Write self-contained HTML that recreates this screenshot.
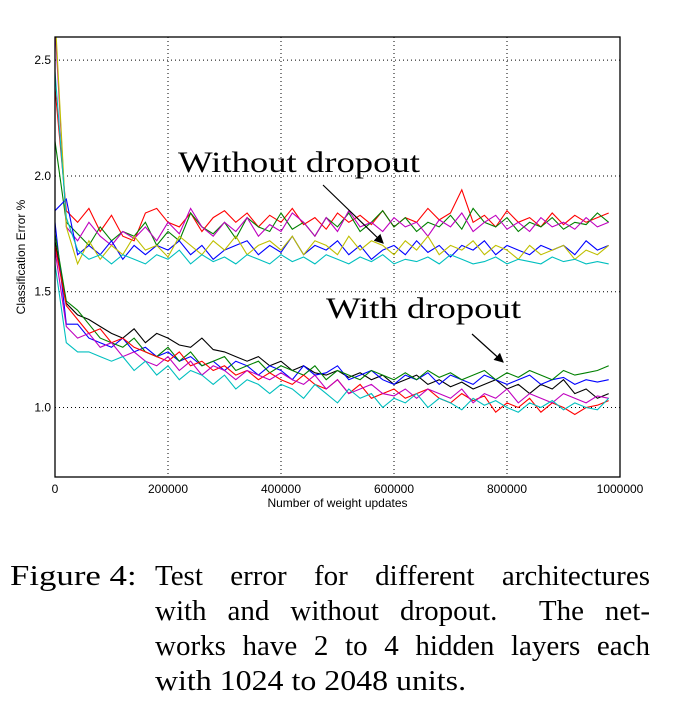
<!DOCTYPE html>
<html><head><meta charset="utf-8"><style>
body{margin:0;background:#fff;width:679px;height:703px;position:relative;overflow:hidden}
.cap{position:absolute;font-family:"Liberation Serif",serif;font-size:29px;color:#000;white-space:nowrap;line-height:30px}
.ln{position:absolute;left:155px;width:495px;text-align:justify;text-align-last:justify;font-family:"Liberation Serif",serif;font-size:29px;line-height:30px;white-space:nowrap}
</style></head><body>
<svg id="chart" width="679" height="530" style="position:absolute;left:0;top:0" font-family="Liberation Sans, DejaVu Sans, sans-serif"></svg>
<div class="cap" style="left:10px;top:561px;transform-origin:0 0;transform:scaleX(1.2)">Figure 4:</div>
<div class="ln" style="top:561px">Test error for different architectures</div>
<div class="ln" style="top:596px">with and without dropout.&nbsp; The net-</div>
<div class="ln" style="top:631px">works have 2 to 4 hidden layers each</div>
<div class="cap" style="left:155px;top:666px;transform-origin:0 0;transform:scaleX(1.1)">with 1024 to 2048 units.</div>
<script>
const xTicks=[0,200000,400000,600000,800000,1000000];
const yTicks=[1.0,1.5,2.0,2.5];
const xStep=20000;
const seriesColors=["#ff0000","#008000","#bf00bf","#0000ff","#bfbf00","#00bfbf","#000000","#0000ff","#008000","#ff0000","#bf00bf","#00bfbf"];
const woRed=[2.38,1.85,1.80,1.86,1.76,1.83,1.74,1.72,1.84,1.86,1.80,1.78,1.84,1.76,1.82,1.85,1.80,1.84,1.78,1.83,1.80,1.86,1.79,1.82,1.77,1.84,1.80,1.83,1.79,1.85,1.78,1.82,1.80,1.86,1.81,1.84,1.94,1.80,1.83,1.78,1.85,1.80,1.82,1.78,1.84,1.79,1.83,1.80,1.82,1.84];
const woGreen=[2.15,1.80,1.75,1.70,1.78,1.72,1.76,1.74,1.80,1.70,1.76,1.72,1.84,1.78,1.75,1.80,1.73,1.82,1.78,1.76,1.84,1.77,1.80,1.74,1.82,1.78,1.84,1.76,1.80,1.85,1.78,1.82,1.76,1.80,1.78,1.83,1.77,1.86,1.80,1.78,1.82,1.76,1.80,1.78,1.82,1.77,1.80,1.79,1.84,1.80];
const woMagenta=[2.65,1.78,1.72,1.80,1.74,1.70,1.76,1.73,1.78,1.72,1.80,1.75,1.86,1.78,1.74,1.80,1.76,1.82,1.74,1.79,1.76,1.84,1.80,1.74,1.82,1.76,1.85,1.78,1.80,1.76,1.82,1.78,1.80,1.74,1.81,1.78,1.84,1.76,1.80,1.83,1.77,1.80,1.76,1.82,1.78,1.80,1.77,1.82,1.78,1.80];
const woBlue=[1.85,1.90,1.66,1.70,1.66,1.72,1.64,1.70,1.66,1.70,1.68,1.72,1.66,1.70,1.64,1.68,1.70,1.72,1.66,1.70,1.67,1.74,1.66,1.70,1.68,1.72,1.66,1.70,1.64,1.68,1.70,1.66,1.72,1.67,1.70,1.65,1.70,1.68,1.72,1.66,1.70,1.68,1.66,1.70,1.68,1.70,1.66,1.72,1.68,1.70];
const woYellow=[2.70,1.78,1.62,1.72,1.64,1.70,1.66,1.74,1.68,1.70,1.65,1.74,1.70,1.66,1.72,1.68,1.74,1.66,1.70,1.72,1.68,1.74,1.66,1.72,1.70,1.66,1.74,1.68,1.72,1.70,1.66,1.72,1.68,1.74,1.66,1.70,1.68,1.72,1.66,1.70,1.68,1.64,1.70,1.66,1.68,1.70,1.64,1.68,1.66,1.70];
const woCyan=[2.45,1.82,1.68,1.64,1.66,1.62,1.66,1.64,1.62,1.66,1.64,1.68,1.62,1.66,1.63,1.65,1.62,1.66,1.64,1.62,1.66,1.63,1.65,1.62,1.66,1.64,1.62,1.65,1.63,1.66,1.62,1.64,1.63,1.65,1.62,1.66,1.64,1.62,1.63,1.65,1.62,1.64,1.63,1.62,1.65,1.63,1.64,1.62,1.63,1.62];
const dBlack=[1.72,1.45,1.40,1.38,1.35,1.32,1.30,1.34,1.28,1.32,1.30,1.27,1.26,1.30,1.25,1.24,1.22,1.20,1.22,1.18,1.20,1.16,1.18,1.15,1.14,1.16,1.13,1.15,1.12,1.14,1.10,1.12,1.14,1.10,1.12,1.09,1.11,1.08,1.10,1.12,1.08,1.10,1.06,1.10,1.08,1.12,1.06,1.08,1.04,1.06];
const dBlue=[1.80,1.36,1.36,1.30,1.28,1.26,1.30,1.24,1.26,1.22,1.24,1.20,1.22,1.18,1.20,1.16,1.20,1.18,1.14,1.18,1.16,1.12,1.18,1.14,1.15,1.18,1.12,1.14,1.16,1.12,1.10,1.14,1.12,1.15,1.10,1.14,1.12,1.10,1.14,1.12,1.10,1.12,1.14,1.10,1.12,1.13,1.10,1.12,1.11,1.12];
const dGreen=[1.75,1.46,1.42,1.36,1.30,1.28,1.26,1.30,1.24,1.22,1.26,1.20,1.24,1.18,1.20,1.22,1.16,1.18,1.20,1.15,1.18,1.16,1.14,1.18,1.12,1.16,1.14,1.12,1.16,1.14,1.12,1.15,1.12,1.16,1.13,1.15,1.12,1.14,1.16,1.12,1.15,1.13,1.16,1.14,1.12,1.16,1.14,1.15,1.16,1.18];
const dRed=[1.70,1.44,1.38,1.32,1.34,1.28,1.30,1.26,1.24,1.22,1.20,1.24,1.18,1.20,1.16,1.18,1.14,1.16,1.12,1.15,1.12,1.10,1.14,1.10,1.08,1.12,1.06,1.10,1.04,1.06,1.08,1.04,1.06,1.08,1.04,1.02,1.06,1.03,1.05,0.98,1.02,1.00,1.04,0.98,1.02,1.00,0.97,1.00,1.01,1.03];
const dMagenta=[1.68,1.35,1.30,1.32,1.26,1.28,1.22,1.24,1.20,1.18,1.22,1.16,1.20,1.14,1.18,1.16,1.12,1.16,1.14,1.12,1.15,1.12,1.10,1.14,1.08,1.12,1.06,1.08,1.10,1.06,1.05,1.08,1.04,1.08,1.06,1.04,1.08,1.02,1.06,1.04,1.08,1.02,1.06,1.04,1.02,1.06,1.04,1.02,1.05,1.04];
const dCyan=[1.62,1.28,1.24,1.24,1.22,1.20,1.22,1.16,1.20,1.14,1.18,1.12,1.16,1.14,1.10,1.14,1.08,1.12,1.10,1.06,1.10,1.08,1.04,1.10,1.06,1.02,1.08,1.04,1.06,1.00,1.04,1.02,1.06,1.00,1.04,1.02,0.99,1.04,1.01,1.03,1.00,0.98,1.02,1.00,1.03,0.99,1.02,1.00,0.99,1.04];
const allSeries=[woRed,woGreen,woMagenta,woBlue,woYellow,woCyan,dBlack,dBlue,dGreen,dRed,dMagenta,dCyan];
const seriesNames=["wo-red","wo-green","wo-magenta","wo-blue","wo-yellow","wo-cyan","d-black","d-blue","d-green","d-red","d-magenta","d-cyan"];

const L=55,R=620,T=37,B=477,xMin=0,xMax=1000000,yMin=0.7,yMax=2.6;
const sx=v=>L+(v-xMin)/(xMax-xMin)*(R-L);
const sy=v=>B-(v-yMin)/(yMax-yMin)*(B-T);
const NS="http://www.w3.org/2000/svg";
const svg=document.getElementById('chart');
function mk(t,a,p){const e=document.createElementNS(NS,t);for(const k in a)e.setAttribute(k,a[k]);(p||svg).appendChild(e);return e;}
const defs=mk('defs',{});const cp=mk('clipPath',{id:'cp'},defs);mk('rect',{x:L,y:T,width:R-L,height:B-T},cp);
xTicks.forEach(t=>{const x=sx(t);
 if(t>xMin&&t<xMax){const g=mk('line',{x1:x,x2:x,y1:T,y2:B,stroke:'#000','stroke-dasharray':'1,3','stroke-width':1});
 
 }
 const tx=mk('text',{x:x,y:B+16,'font-size':12,'text-anchor':'middle'});tx.textContent=t;
 
 
});
yTicks.forEach(t=>{const y=sy(t);
 const g=mk('line',{x1:L,x2:R,y1:y,y2:y,stroke:'#000','stroke-dasharray':'1,3','stroke-width':1});
 
 
 const tx=mk('text',{x:L-4,y:y+4,'font-size':12,'text-anchor':'end'});tx.textContent=t.toFixed(1);
 
 
});
const gl=mk('g',{'clip-path':'url(#cp)'});
allSeries.forEach((s,i)=>{const pts=s.map((v,j)=>sx(j*xStep).toFixed(1)+','+sy(v).toFixed(1)).join(' ');
 const p=mk('polyline',{points:pts,fill:'none',stroke:seriesColors[i],'stroke-width':1.1},gl);
 
 
});
const fr=mk('rect',{x:L,y:T,width:R-L,height:B-T,fill:'none',stroke:'#000','stroke-width':1.3});


const xl=mk('text',{x:(L+R)/2,y:B+30,'font-size':12,'text-anchor':'middle'});xl.textContent='Number of weight updates';


const yl=mk('text',{x:0,y:0,'font-size':12,'text-anchor':'middle',transform:'translate(25,257) rotate(-90)'});yl.textContent='Classification Error %';


const a1=mk('text',{x:178,y:172,'font-size':30,'font-family':'Liberation Serif, serif',textLength:242,lengthAdjust:'spacingAndGlyphs'});a1.textContent='Without dropout';


const a2=mk('text',{x:326,y:318,'font-size':30,'font-family':'Liberation Serif, serif',textLength:195,lengthAdjust:'spacingAndGlyphs'});a2.textContent='With dropout';


const am=mk('marker',{id:'ah',markerWidth:8,markerHeight:8,refX:7,refY:4,orient:'auto'},defs);mk('path',{d:'M0,0 L8,4 L0,8 z',fill:'#000'},am);
const r1=mk('line',{x1:323,y1:185,x2:383,y2:243,stroke:'#000','stroke-width':1.2,'marker-end':'url(#ah)'});


const r2=mk('line',{x1:472,y1:334,x2:503,y2:362,stroke:'#000','stroke-width':1.2,'marker-end':'url(#ah)'});


</script>
</body></html>
